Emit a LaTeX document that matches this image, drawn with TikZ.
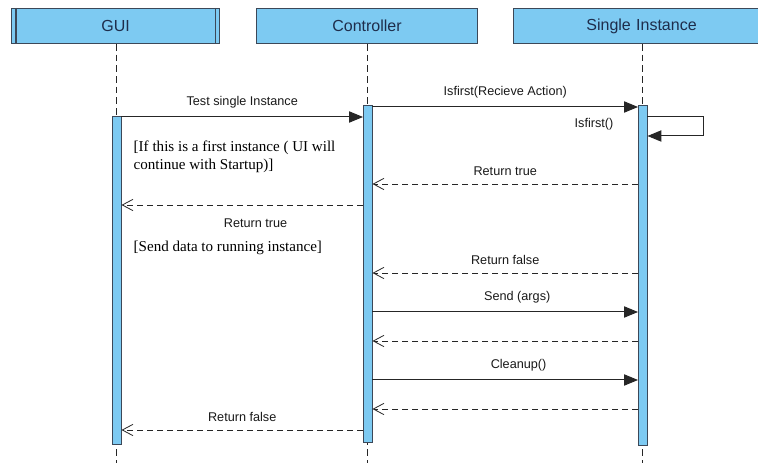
\documentclass[tikz,border=0pt]{standalone}
\usepackage{fontspec}
\setmainfont{Liberation Serif}
\setsansfont{Liberation Sans}
\usetikzlibrary{arrows.meta}

\definecolor{lifeblue}{RGB}{125,202,242}
\definecolor{edgegray}{RGB}{60,72,88}
\definecolor{headtext}{RGB}{30,45,75}

\begin{document}
\begin{tikzpicture}[
  x=0.75pt, y=-0.75pt,
  head/.style={draw=edgegray, fill=lifeblue, line width=0.8pt, anchor=north west,
               minimum height=26.25pt, inner sep=0pt,
               font=\sffamily\fontsize{12}{14}\selectfont, text=headtext},
  act/.style={draw=edgegray, fill=lifeblue, line width=0.6pt, anchor=north west,
              inner sep=0pt, minimum width=6.5pt},
  life/.style={draw=black!85, line width=0.6pt, dash pattern=on 5pt off 3pt},
  call/.style={draw=black!85, line width=0.75pt, -{Triangle[length=10.5pt,width=8.5pt]}},
  ret/.style={draw=black!85, line width=0.6pt, dash pattern=on 4.5pt off 3pt,
              -{Straight Barb[length=8pt,width=8.5pt]}},
  lbl/.style={font=\sffamily\fontsize{9.5}{11}\selectfont, text=black!90},
  note/.style={font=\fontsize{11.3}{13.5}\selectfont, align=left, anchor=west}
]
  \useasboundingbox (0,0) rectangle (758,463);

  % lifeline heads
  \node[head, minimum width=156pt] (gui) at (11,8) {GUI};
  \draw[edgegray, line width=0.8pt] ([xshift=3.75pt]gui.north west) -- ([xshift=3.75pt]gui.south west);
  \draw[edgegray, line width=0.8pt] ([xshift=-3.75pt]gui.north east) -- ([xshift=-3.75pt]gui.south east);
  \node[head, minimum width=165.75pt] (ctl) at (256,8) {Controller};
  \node[head, minimum width=192pt, text width=192pt, align=center] (single) at (513,8) {\hspace*{0pt}Single Instance};
  \fill[lifeblue] ([xshift=-1pt,yshift=-0.4pt]single.north east) rectangle ([xshift=12pt,yshift=0.4pt]single.south east);
  \draw[edgegray, line width=0.8pt] (single.north east) -- ++(12pt,0);
  \draw[edgegray, line width=0.8pt] (single.south east) -- ++(12pt,0);

  % lifelines
  \coordinate (guiend) at (116,463);
  \coordinate (ctlend) at (367.5,463);
  \coordinate (singleend) at (642,463);
  \draw[life] (gui.south -| guiend) -- (guiend);
  \draw[life] (ctl.south -| ctlend) -- (ctlend);
  \draw[life] (single.south -| singleend) -- (singleend);

  % activations
  \node[act, minimum height=246pt] (guiact) at (112,116) {};
  \node[act, minimum height=252.75pt] (ctlact) at (363,105) {};
  \node[act, minimum height=255pt] (singleact) at (638,105) {};

  % messages
  \draw[call] (guiact.east |- 0,117) -- node[lbl, above=3pt] {Test single Instance} (ctlact.west |- 0,117);
  \draw[call] (ctlact.east |- 0,107) -- node[lbl, above=3pt] {Isfirst(Recieve Action)} (singleact.west |- 0,107);
  \coordinate (loopr) at (703,117);
  \draw[call] (singleact.east |- 0,117) -- (loopr) -- (loopr |- 0,136) -- (singleact.east |- 0,136);
  \node[lbl] (isfirst) at (594,124) {Isfirst()};

  \draw[ret] (singleact.west |- 0,184) -- node[lbl, above=3pt] {Return true} (ctlact.east |- 0,184);
  \draw[ret] (ctlact.west |- 0,205) -- node[lbl, below=7pt, xshift=10pt] {Return true} (guiact.east |- 0,205);
  \node[note] (firstnote) at (129,157) {[If this is a first instance ( UI will\\continue with Startup)]};
  \node[note] (sendnote) at (129,248) {[Send data to running instance]};

  \draw[ret] (singleact.west |- 0,273) -- node[lbl, above=3pt] {Return false} (ctlact.east |- 0,273);
  \draw[call] (ctlact.east |- 0,312) -- node[lbl, above=3pt, xshift=9pt] {Send (args)} (singleact.west |- 0,312);
  \draw[ret] (singleact.west |- 0,341) -- (ctlact.east |- 0,341);
  \draw[call] (ctlact.east |- 0,380) -- node[lbl, above=3pt, xshift=10pt] {Cleanup()} (singleact.west |- 0,380);
  \draw[ret] (singleact.west |- 0,409) -- (ctlact.east |- 0,409);
  \draw[ret] (ctlact.west |- 0,430) -- node[lbl, above=3pt] {Return false} (guiact.east |- 0,430);
\end{tikzpicture}
\end{document}
